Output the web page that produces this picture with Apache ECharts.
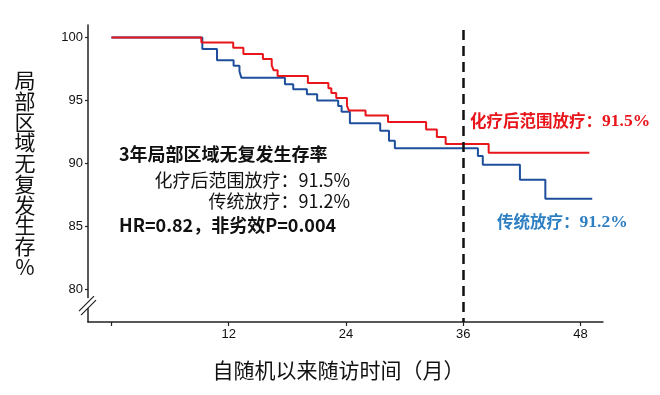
<!DOCTYPE html>
<html><head><meta charset="utf-8">
<script src="https://cdn.jsdelivr.net/npm/echarts@6/dist/echarts.min.js"></script>
<style>html,body{margin:0;padding:0;background:#fff}#c{width:660px;height:395px}</style>
</head><body><div id="c"></div>
<script>
// Kaplan-Meier step data (months, % free of locoregional recurrence)
const redName = '化疗后范围放疗';
const redTimes  = [0, 9.2, 12.46, 13.5, 15.5, 16.4, 16.6, 17.0, 20.1, 22.2, 22.5, 23.0, 24.1, 24.3, 26.0, 28.3, 32.2, 33.3, 34.2, 38.6, 48.9];
const redValues = [100, 99.6, 99.2, 98.7, 98.3, 97.8, 97.4, 96.95, 96.4, 95.97, 95.6, 95.2, 94.6, 94.2, 93.8, 93.3, 92.7, 92.1, 91.55, 90.85, 90.85];

const blueName = '传统放疗';
const blueTimes  = [0, 9.3, 10.8, 12.5, 13.1, 13.3, 17.75, 18.6, 20.0, 21.05, 23.2, 23.55, 24.4, 27.5, 28.4, 29.0, 37.5, 38.0, 41.8, 44.4, 49.2];
const blueValues = [100, 99.1, 98.2, 97.76, 97.3, 96.8, 96.3, 95.9, 95.5, 95.0, 94.56, 94.1, 93.2, 92.6, 91.8, 91.2, 90.6, 89.9, 88.7, 87.2, 87.2];

const xTickValues = [0, 12, 24, 36, 48];
const xLabelValues = [12, 24, 36, 48];
const yTickValues = [80, 85, 90, 95, 100];
const landmarkMonth = 36;

const xMin = -2.4, xMax = 50.3, yMin = 77.4, yMax = 101;

const zip = (a, b) => a.map((t, i) => [t, b[i]]);

const chart = echarts.init(document.getElementById('c'), null, {renderer: 'canvas'});
const cjk = '"Noto Sans CJK SC", sans-serif';
const tickFont = '"Liberation Sans", Arial, sans-serif';

chart.setOption({
  animation: false,
  backgroundColor: '#fff',
  grid: {left: 88, right: 57, top: 25, bottom: 73, containLabel: false},
  xAxis: {
    type: 'value', min: xMin, max: xMax,
    name: '自随机以来随访时间（月）', nameLocation: 'middle', nameGap: 48,
    nameTextStyle: {fontFamily: cjk, fontSize: 21, color: '#111', verticalAlign: 'middle', padding: [0, 14, 0, 0]},
    axisLine: {show: true, onZero: false, lineStyle: {color: '#222', width: 1.5}},
    axisTick: {show: true, length: 4, lineStyle: {color: '#222', width: 1.2}, customValues: xTickValues},
    axisLabel: {customValues: xLabelValues, fontFamily: tickFont, fontSize: 13, color: '#111', margin: 6},
    splitLine: {show: false}
  },
  yAxis: {
    type: 'value', min: yMin, max: yMax,
    name: '局部区域无复发生存%'.split('').join('\n'), nameLocation: 'middle', nameGap: 63, nameRotate: 0,
    nameTextStyle: {fontFamily: cjk, fontSize: 21, lineHeight: 20.7, color: '#111', align: 'center', verticalAlign: 'middle'},
    axisLine: {show: true, onZero: false, lineStyle: {color: '#222', width: 1.5}},
    axisTick: {show: true, length: 3, lineStyle: {color: '#222', width: 1.2}, customValues: yTickValues},
    axisLabel: {customValues: yTickValues, fontFamily: tickFont, fontSize: 13, color: '#111', margin: 5},
    splitLine: {show: false}
  },
  series: [
    {
      name: blueName, type: 'line', step: 'end', showSymbol: false,
      data: zip(blueTimes, blueValues),
      lineStyle: {color: '#1f4f9c', width: 2}, itemStyle: {color: '#1f4f9c'}, z: 2
    },
    {
      name: redName, type: 'line', step: 'end', showSymbol: false,
      data: zip(redTimes, redValues),
      lineStyle: {color: '#e8151b', width: 2}, itemStyle: {color: '#e8151b'}, z: 3,
      markLine: {
        silent: true, symbol: 'none', label: {show: false},
        lineStyle: {color: '#111', width: 2.5, type: [10, 6]},
        data: [[{coord: [landmarkMonth, 100.6]}, {coord: [landmarkMonth, yMin]}]]
      }
    }
  ]
});

// axis break marker and annotations
const ax = chart.convertToPixel({xAxisIndex: 0}, xMin);
const cy = chart.convertToPixel({yAxisIndex: 0}, 78.9);
chart.setOption({
  graphic: [
    {type: 'rect', shape: {x: ax - 3, y: cy - 5, width: 6, height: 10}, style: {fill: '#fff'}, z: 100},
    {type: 'line', shape: {x1: ax - 9, y1: cy + 8, x2: ax + 6, y2: cy - 7}, style: {stroke: '#222', lineWidth: 1.2}, z: 101},
    {type: 'line', shape: {x1: ax - 7, y1: cy + 12, x2: ax + 8, y2: cy - 3}, style: {stroke: '#222', lineWidth: 1.2}, z: 101},
    {type: 'text', left: 119, top: 145, style: {text: '3年局部区域无复发生存率', font: 'bold 18px ' + cjk, fill: '#111'}},
    {type: 'text', right: 310, top: 171, style: {text: '化疗后范围放疗：91.5%', font: '18px ' + cjk, fill: '#111'}},
    {type: 'text', right: 310, top: 192, style: {text: '传统放疗：91.2%', font: '18px ' + cjk, fill: '#111'}},
    {type: 'text', left: 119, top: 216, style: {text: 'HR=0.82，非劣效P=0.004', font: 'bold 18px ' + cjk, fill: '#111'}},
    {type: 'text', left: 470, top: 112, style: {
      text: '{a|化疗后范围放疗：}{b|91.5%}',
      rich: {a: {fontFamily: cjk, fontWeight: 'bold', fontSize: 16.5, fill: '#e8151b'},
             b: {fontFamily: '"Liberation Serif", serif', fontWeight: 'bold', fontSize: 17.5, fill: '#e8151b'}}
    }},
    {type: 'text', left: 497, top: 213, style: {
      text: '{a|传统放疗：}{b|91.2%}',
      rich: {a: {fontFamily: cjk, fontWeight: 'bold', fontSize: 16.5, fill: '#2f80c3'},
             b: {fontFamily: '"Liberation Serif", serif', fontWeight: 'bold', fontSize: 17.5, fill: '#2f80c3'}}
    }}
  ]
});
</script></body></html>
